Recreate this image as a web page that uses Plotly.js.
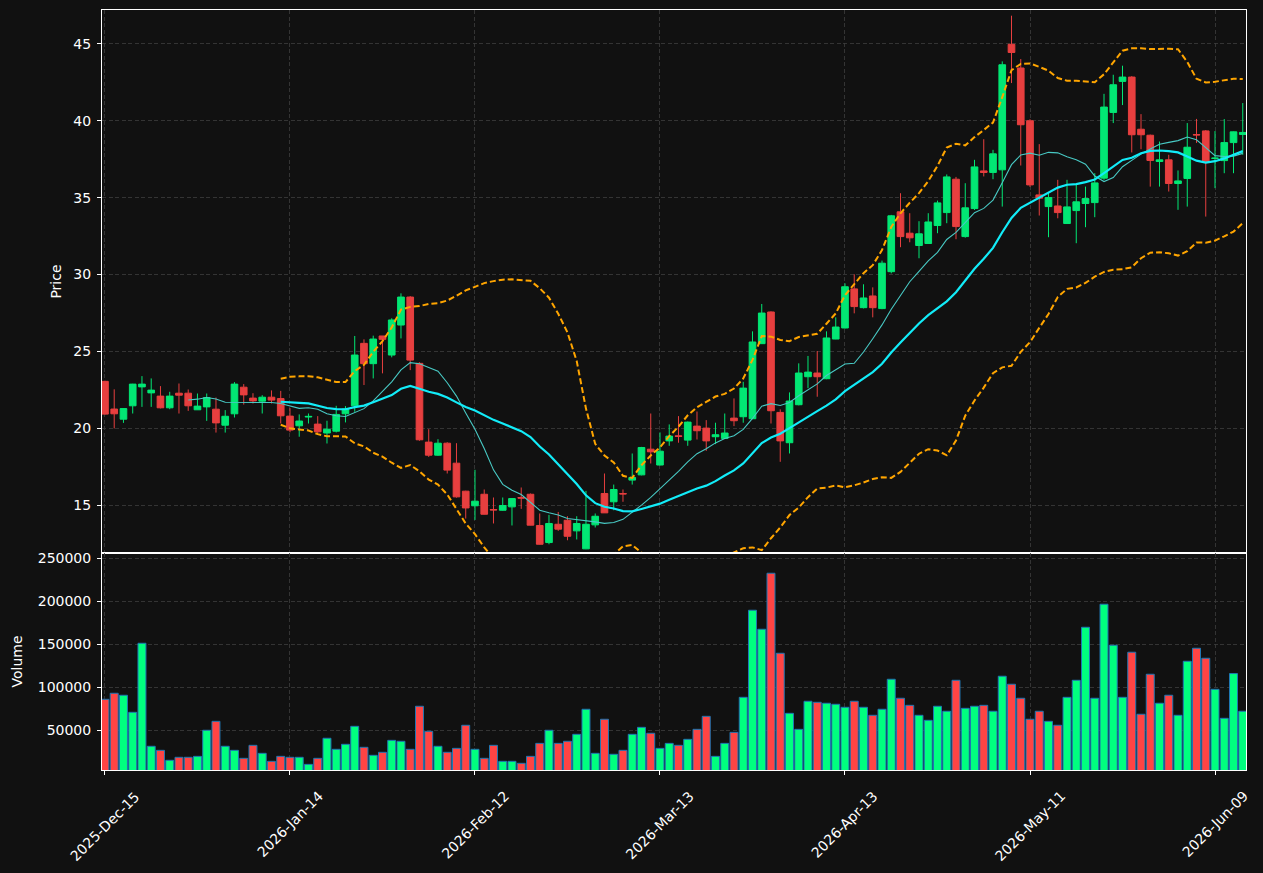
<!DOCTYPE html>
<html><head><meta charset="utf-8">
<script src="https://cdn.plot.ly/plotly-3.0.1.min.js"></script>
<style>html,body{margin:0;padding:0;background:#111111;}</style>
</head><body><div id="chart" style="width:1263px;height:873px;"></div>
<script>
const dates = [
'2025-12-15','2025-12-16','2025-12-17','2025-12-18','2025-12-19','2025-12-22','2025-12-23','2025-12-24','2025-12-26','2025-12-29','2025-12-30','2025-12-31',
'2026-01-02','2026-01-05','2026-01-06','2026-01-07','2026-01-08','2026-01-09','2026-01-12','2026-01-13','2026-01-14','2026-01-15','2026-01-16','2026-01-20','2026-01-21','2026-01-22','2026-01-23','2026-01-26','2026-01-27','2026-01-28','2026-01-29','2026-01-30',
'2026-02-02','2026-02-03','2026-02-04','2026-02-05','2026-02-06','2026-02-09','2026-02-10','2026-02-11','2026-02-12','2026-02-13','2026-02-17','2026-02-18','2026-02-19','2026-02-20','2026-02-23','2026-02-24','2026-02-25','2026-02-26','2026-02-27',
'2026-03-02','2026-03-03','2026-03-04','2026-03-05','2026-03-06','2026-03-09','2026-03-10','2026-03-11','2026-03-12','2026-03-13','2026-03-16','2026-03-17','2026-03-18','2026-03-19','2026-03-20','2026-03-23','2026-03-24','2026-03-25','2026-03-26','2026-03-27','2026-03-30','2026-03-31',
'2026-04-01','2026-04-02','2026-04-06','2026-04-07','2026-04-08','2026-04-09','2026-04-10','2026-04-13','2026-04-14','2026-04-15','2026-04-16','2026-04-17','2026-04-20','2026-04-21','2026-04-22','2026-04-23','2026-04-24','2026-04-27','2026-04-28','2026-04-29','2026-04-30',
'2026-05-01','2026-05-04','2026-05-05','2026-05-06','2026-05-07','2026-05-08','2026-05-11','2026-05-12','2026-05-13','2026-05-14','2026-05-15','2026-05-18','2026-05-19','2026-05-20','2026-05-21','2026-05-22','2026-05-26','2026-05-27','2026-05-28','2026-05-29',
'2026-06-01','2026-06-02','2026-06-03','2026-06-04','2026-06-05','2026-06-08','2026-06-09','2026-06-10','2026-06-11','2026-06-12'];

const open = [23.06,21.26,20.60,21.47,22.70,22.31,22.10,21.34,22.29,22.29,21.21,21.40,21.25,20.21,20.95,22.68,21.97,21.77,22.03,21.94,
20.80,20.17,20.74,20.28,19.70,19.82,20.95,21.47,25.53,24.21,26.01,24.77,26.72,28.54,24.23,19.11,18.26,19.04,17.74,15.92,
14.97,15.72,14.73,14.68,14.90,15.51,15.72,13.69,12.58,13.77,14.03,13.34,12.17,13.73,15.77,15.23,15.77,16.64,16.98,18.65,
17.62,19.19,19.52,19.24,20.15,20.02,19.46,19.35,20.67,20.76,20.63,25.51,27.57,21.04,19.07,21.54,23.36,23.60,23.23,25.81,
26.53,29.07,27.85,28.61,27.79,30.19,34.08,32.69,31.89,32.02,33.19,34.03,36.20,32.47,34.29,36.74,36.64,36.81,44.97,43.43,
40.00,35.18,34.42,34.46,33.32,34.16,34.62,34.68,36.27,40.54,42.56,42.84,39.45,39.06,37.35,37.46,35.92,36.25,39.10,39.34,
37.55,37.41,38.58,39.11];
const high = [23.10,22.54,21.30,22.90,23.40,23.25,22.75,22.38,22.92,22.53,22.27,22.27,22.01,21.19,23.01,22.88,22.29,22.16,22.47,22.44,
21.32,20.91,20.97,20.80,20.50,21.47,21.45,26.01,25.79,26.03,26.01,27.16,28.78,28.60,24.30,19.95,19.30,19.10,19.04,15.95,
17.31,16.03,15.51,15.51,15.46,16.16,15.77,14.47,14.38,14.57,14.29,14.29,15.94,14.47,17.07,16.35,16.03,18.37,18.80,20.97,
19.74,20.26,20.80,20.45,21.10,20.54,20.37,20.97,21.95,23.03,26.31,28.09,27.61,21.24,22.34,24.23,24.71,25.03,26.31,27.22,
29.43,30.02,29.37,29.17,30.91,33.88,35.29,33.99,33.47,33.99,34.81,36.51,36.35,35.94,37.46,38.80,38.11,43.86,46.83,44.01,
40.10,38.48,35.29,36.16,36.16,35.90,35.72,36.59,41.75,42.99,43.58,42.90,40.43,39.10,38.65,37.79,36.77,39.85,40.12,39.40,
39.33,40.11,39.30,41.15];
const low = [20.90,20.00,20.36,20.97,21.40,21.40,21.30,21.25,20.97,21.14,21.20,20.49,19.73,19.73,20.71,21.55,21.62,20.97,21.62,20.32,
19.75,19.46,20.32,19.63,19.02,19.74,20.39,21.08,22.82,23.25,23.58,24.62,25.85,23.79,19.20,18.15,18.22,17.07,15.50,14.14,
14.05,14.40,13.82,14.65,13.69,14.77,13.70,12.45,12.47,13.34,12.73,12.78,12.15,13.56,14.50,14.68,15.23,16.35,16.95,17.72,
17.60,18.87,19.07,18.87,19.28,18.54,18.98,19.33,20.15,20.37,20.60,25.50,20.32,17.83,18.37,21.50,22.62,22.06,23.20,25.80,
26.50,27.48,27.80,27.22,27.75,30.08,31.78,32.10,31.06,32.00,32.69,33.34,32.30,32.40,34.20,36.38,36.20,34.42,42.45,37.09,
35.70,33.84,32.43,33.66,33.30,32.04,33.08,33.73,36.16,39.85,41.02,37.94,38.15,35.72,35.72,35.40,34.21,34.42,38.56,33.77,
35.62,36.59,36.59,37.79];
const close = [20.93,20.95,21.29,22.88,22.88,22.49,21.34,22.10,22.16,21.47,21.45,22.01,20.36,20.79,22.88,22.18,21.79,22.03,21.84,20.82,
19.89,20.48,20.78,19.78,19.95,20.91,21.26,24.77,24.21,25.81,25.79,27.05,28.54,24.44,19.26,18.26,19.04,17.29,15.55,14.83,
15.27,14.42,14.70,14.99,15.44,15.47,13.71,12.47,13.82,13.45,12.99,13.82,13.77,14.29,14.51,16.03,15.74,16.81,18.76,18.48,
18.52,19.50,19.48,20.41,19.85,19.19,19.59,19.70,20.50,22.62,25.62,27.50,21.15,19.19,21.78,23.60,23.66,23.36,25.88,26.59,
29.21,27.92,28.48,27.85,30.74,33.82,32.47,32.39,32.65,33.42,34.66,36.35,33.12,34.34,37.00,36.64,37.85,43.64,44.44,39.74,
35.83,34.97,35.01,34.03,34.40,34.73,34.94,35.96,40.89,42.34,42.84,39.09,39.09,37.42,37.46,35.92,36.09,38.28,39.08,37.31,
37.57,38.58,39.28,39.24];
const volume = [86000,93000,90700,70900,151100,31400,26700,15100,18600,18600,19700,50000,60400,31400,26700,17400,32500,23200,13900,19700,
18600,18600,10400,17400,40700,27900,33700,54600,30200,20900,24400,38300,37200,27900,77900,48800,31400,24400,29000,55800,
27900,17400,32500,13900,13900,11600,19700,34800,50000,34800,37200,45300,74400,23200,62800,22100,26700,45300,53400,46500,
29000,34800,32500,39500,51100,66200,19700,34800,47600,88300,189500,167400,232500,139500,69700,51100,83700,82500,81400,80200,
76700,83700,76700,67400,74400,109300,87200,79000,67400,61600,77900,72100,108100,75500,77900,79000,72100,112800,103500,87200,
62800,72100,60400,55800,88300,108100,169700,87200,196500,148800,88300,140700,68600,115100,81400,90700,67400,130200,145300,133700,
97600,63900,115900,72100];
const tickDates = ['2025-12-15','2026-01-14','2026-02-12','2026-03-13','2026-04-13','2026-05-11','2026-06-09'];
const monthNames = ['Jan','Feb','Mar','Apr','May','Jun','Jul','Aug','Sep','Oct','Nov','Dec'];

function fmtDate(d){ const p = d.split('-'); return p[0] + '-' + monthNames[+p[1]-1] + '-' + p[2]; }
function sma(a, n){ return a.map((_, i) => i < n-1 ? null : a.slice(i-n+1, i+1).reduce((s, v) => s+v, 0)/n); }
function rstd(a, n){ return a.map((_, i) => { if (i < n-1) return null; const w = a.slice(i-n+1, i+1); const m = w.reduce((s,v)=>s+v,0)/n; return Math.sqrt(w.reduce((s,v)=>s+(v-m)*(v-m),0)/(n-1)); }); }

const ma10 = sma(close, 10);
const ma20 = sma(close, 20);
const sd20 = rstd(close, 20);
const bbUp = ma20.map((m, i) => m === null ? null : m + 2*sd20[i]);
const bbLo = ma20.map((m, i) => m === null ? null : m - 2*sd20[i]);

const UP = '#00ff7f', DOWN = '#ff4444';
const UPC = '#02e774', DOWNC = '#e73f3f';
const volColors = close.map((c, i) => c >= open[i] ? UP : DOWN);

const traces = [
  { type: 'candlestick', x: dates, open: open, high: high, low: low, close: close, xaxis: 'x', yaxis: 'y',
    increasing: { line: { color: UPC, width: 1 }, fillcolor: UPC },
    decreasing: { line: { color: DOWNC, width: 1 }, fillcolor: DOWNC },
    whiskerwidth: 0, hoverinfo: 'skip', showlegend: false },
  { type: 'scatter', mode: 'lines', x: dates, y: ma10, line: { color: '#48c9c4', width: 1.1 }, xaxis: 'x', yaxis: 'y', hoverinfo: 'skip', showlegend: false },
  { type: 'scatter', mode: 'lines', x: dates, y: ma20, line: { color: '#12ecf8', width: 2.2 }, xaxis: 'x', yaxis: 'y', hoverinfo: 'skip', showlegend: false },
  { type: 'scatter', mode: 'lines', x: dates, y: bbUp, line: { color: '#ffa500', width: 2, dash: '6px,3px' }, xaxis: 'x', yaxis: 'y', hoverinfo: 'skip', showlegend: false },
  { type: 'scatter', mode: 'lines', x: dates, y: bbLo, line: { color: '#ffa500', width: 2, dash: '6px,3px' }, xaxis: 'x', yaxis: 'y', hoverinfo: 'skip', showlegend: false },
  { type: 'bar', x: dates, y: volume, marker: { color: volColors, line: { color: '#1f77b4', width: 1 } }, width: 0.86,
    xaxis: 'x2', yaxis: 'y2', hoverinfo: 'skip', showlegend: false }
];

const FONT = { family: 'DejaVu Sans, sans-serif', size: 14, color: '#ffffff' };
const GRID = { showgrid: true, gridcolor: '#3d3d3d', gridwidth: 0.8, griddash: '4px,2.5px' };
const LINE = { showline: true, mirror: true, linecolor: '#ffffff', linewidth: 1, zeroline: false };

const annotations = tickDates.map(d => ({
  x: d, xref: 'x2', y: 0, yref: 'paper', yanchor: 'top', xanchor: 'center', yshift: -15,
  textangle: -45, text: fmtDate(d), showarrow: false, font: FONT
}));

const layout = {
  width: 1263, height: 873,
  paper_bgcolor: '#111111', plot_bgcolor: '#111111',
  margin: { l: 102, r: 17, t: 10, b: 103 },
  font: FONT,
  showlegend: false,
  boxgap: 0.28, boxgroupgap: 0,
  bargap: 0,
  xaxis: Object.assign({ domain: [0, 1], anchor: 'y', type: 'category', range: [-0.32, 123.35],
    tickvals: tickDates, showticklabels: false, ticks: '', rangeslider: { visible: false } }, GRID, LINE),
  yaxis: Object.assign({ domain: [0.2855, 1], anchor: 'x', range: [11.9, 47.2], dtick: 5, tick0: 0,
    ticks: 'outside', ticklen: 4, tickcolor: '#ffffff', tickfont: FONT, ticklabelstandoff: 3,
    title: { text: 'Price', font: FONT, standoff: 8 } }, GRID, LINE),
  xaxis2: Object.assign({ domain: [0, 1], anchor: 'y2', type: 'category', matches: 'x',
    tickvals: tickDates, showticklabels: false, ticks: 'outside', ticklen: 4, tickcolor: '#ffffff' }, GRID, LINE),
  yaxis2: Object.assign({ domain: [0, 0.2855], anchor: 'x2', range: [3840, 256000],
    tickvals: [50000, 100000, 150000, 200000, 250000], tickformat: 'd',
    ticks: 'outside', ticklen: 4, tickcolor: '#ffffff', tickfont: FONT, ticklabelstandoff: 3,
    title: { text: 'Volume', font: FONT, standoff: 11 } }, GRID, LINE),
  annotations: annotations
};

Plotly.newPlot('chart', traces, layout, { staticPlot: true, displayModeBar: false });
</script></body></html>
